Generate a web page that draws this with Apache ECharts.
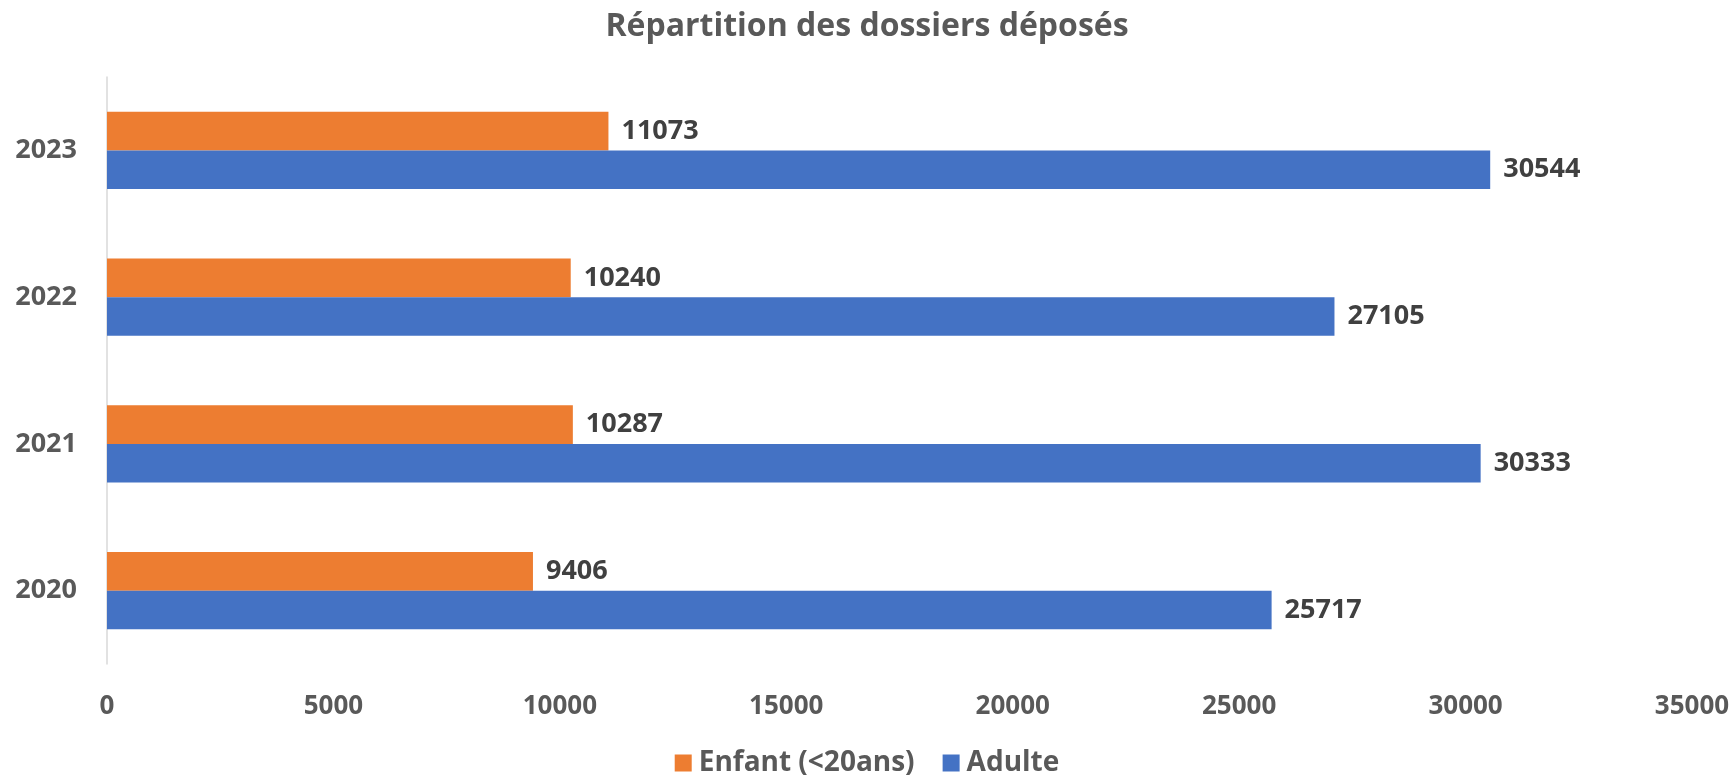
<!DOCTYPE html>
<html>
<head>
<meta charset="utf-8">
<script src="https://cdn.jsdelivr.net/npm/echarts@6/dist/echarts.min.js"></script>
<style>
  html, body { margin: 0; padding: 0; background: #fff; }
  #chart { width: 1734px; height: 784px; }
</style>
</head>
<body>
<div id="chart"></div>
<script>
const years = ['2020', '2021', '2022', '2023'];
const enfant = [9406, 10287, 10240, 11073];
const adulte = [25717, 30333, 27105, 30544];
const xTicks = [0, 5000, 10000, 15000, 20000, 25000, 30000, 35000];

const font = '"Open Sans", "Liberation Sans", sans-serif';

const chart = echarts.init(document.getElementById('chart'));

const labelStyle = {
  show: true,
  position: 'right',
  distance: 13,
  color: '#404040',
  fontFamily: font,
  fontWeight: 'bold',
  fontSize: 27
};

chart.setOption({
  animation: false,
  title: {
    text: 'Répartition des dossiers déposés',
    left: 'center',
    top: 6,
    textStyle: { color: '#595959', fontFamily: font, fontWeight: 'bold', fontSize: 32 }
  },
  legend: {
    bottom: 2,
    left: 'center',
    data: ['Enfant (<20ans)', 'Adulte'],
    icon: 'rect',
    itemWidth: 17,
    itemHeight: 17,
    itemGap: 28,
    textStyle: { color: '#595959', fontFamily: font, fontWeight: 'bold', fontSize: 28, padding: [0, 0, 0, 2] }
  },
  grid: { left: 107, right: 42, top: 77, bottom: 120, containLabel: false },
  xAxis: {
    type: 'value',
    min: xTicks[0],
    max: xTicks[xTicks.length - 1],
    interval: 5000,
    axisLine: { show: false },
    axisTick: { show: false },
    splitLine: { show: false },
    axisLabel: {
      color: '#595959', fontFamily: font, fontWeight: 'bold', fontSize: 26, margin: 30,
      formatter: (v) => String(v)
    }
  },
  yAxis: {
    type: 'category',
    data: years,
    axisLine: { show: true, lineStyle: { color: '#d9d9d9', width: 1.5 } },
    axisTick: { show: false },
    axisLabel: { color: '#595959', fontFamily: font, fontWeight: 'bold', fontSize: 27, margin: 30 }
  },
  series: [
    {
      name: 'Enfant (<20ans)',
      type: 'bar',
      data: enfant,
      barGap: '0%',
      barCategoryGap: '47.5%',
      itemStyle: { color: '#ed7d31' },
      label: labelStyle
    },
    {
      name: 'Adulte',
      type: 'bar',
      data: adulte,
      barGap: '0%',
      barCategoryGap: '47.5%',
      itemStyle: { color: '#4472c4' },
      label: labelStyle
    }
  ]
});

window.addEventListener('resize', () => {
  chart.resize();
});
</script>
</body>
</html>
